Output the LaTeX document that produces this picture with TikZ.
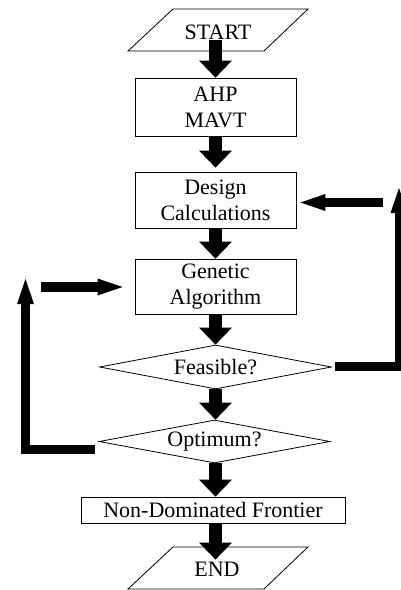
\documentclass[tikz,border=0pt]{standalone}
\usepackage{fontspec}
\setmainfont{Liberation Serif}
\usetikzlibrary{arrows.meta,shapes.geometric,calc}
\begin{document}
\begin{tikzpicture}[x=1pt,y=-1pt,
  every node/.style={font=\fontsize{22}{26}\selectfont, text=black},
  box/.style={draw, line width=0.8pt, inner sep=0pt, align=center},
  dia/.style={draw, diamond, line width=0.8pt, inner sep=0pt, aspect=5.3},
  par/.style={line width=0.8pt},
  main/.style={line width=13pt, -{Triangle[length=17pt,width=33pt,line width=0pt]}},
  back/.style={line width=9pt, line join=miter, -{Triangle[length=25pt,width=17pt,line width=0pt]}}
]
\useasboundingbox (0,0) rectangle (401,590);
\coordinate (ax) at (215.5,0);

% start / end parallelograms
\draw[par] (128,51) -- (173,9) -- (308,9) -- (264,51) -- cycle;
\node[inner sep=0pt] (start) at (218,32) {START};
\draw[par] (128,589) -- (173,547) -- (308,547) -- (264,589) -- cycle;
\node[inner sep=0pt] (endn) at (217,569) {END};

% boxes
\node[box, minimum width=161pt, minimum height=58pt] (ahp) at (215.5,107) {AHP\\MAVT};
\node[box, minimum width=161pt, minimum height=56pt] (design) at (215.5,200) {Design\\Calculations};
\node[box, minimum width=161pt, minimum height=55pt] (gen) at (215.5,286.5) {Genetic\\Algorithm};
\node[dia, minimum width=232pt, minimum height=44pt] (feas) at (215.5,367) {Feasible?};
\node[dia, minimum width=231pt, minimum height=43pt] (opt) at (214.5,441.5) {Optimum?};
\node[box, minimum width=264pt, minimum height=26pt] (nd) at (213,510) {Non-Dominated Frontier};

% main flow
\draw[main] (start.south -| ax) -- (ahp.north -| ax);
\draw[main] (ahp.south -| ax) -- ([yshift=4pt]design.north -| ax);
\draw[main] (design.south -| ax) -- (gen.north -| ax);
\draw[main] (gen.south -| ax) -- (feas.north -| ax);
\draw[main] (feas.south -| ax) -- (opt.north -| ax);
\draw[main] (opt.south -| ax) -- (nd.north -| ax);
\draw[main] (nd.south -| ax) -- ([yshift=2pt]endn.north -| ax);

% feedback loops
\coordinate (rtop) at (399,188);
\coordinate (rin) at (383,202.5);
\coordinate (ltop) at (25.5,279);
\coordinate (lin) at (41,287);
\draw[back] ([xshift=3pt,yshift=1pt]feas.east) -| (rtop);
\draw[back, shorten >=4pt] (rin) -- (rin -| design.east);
\draw[back] ([xshift=-4pt,yshift=-8pt]opt.west) -| (ltop);
\draw[back, line width=10pt, shorten >=12pt] (lin) -- (lin -| gen.west);
\end{tikzpicture}
\end{document}
